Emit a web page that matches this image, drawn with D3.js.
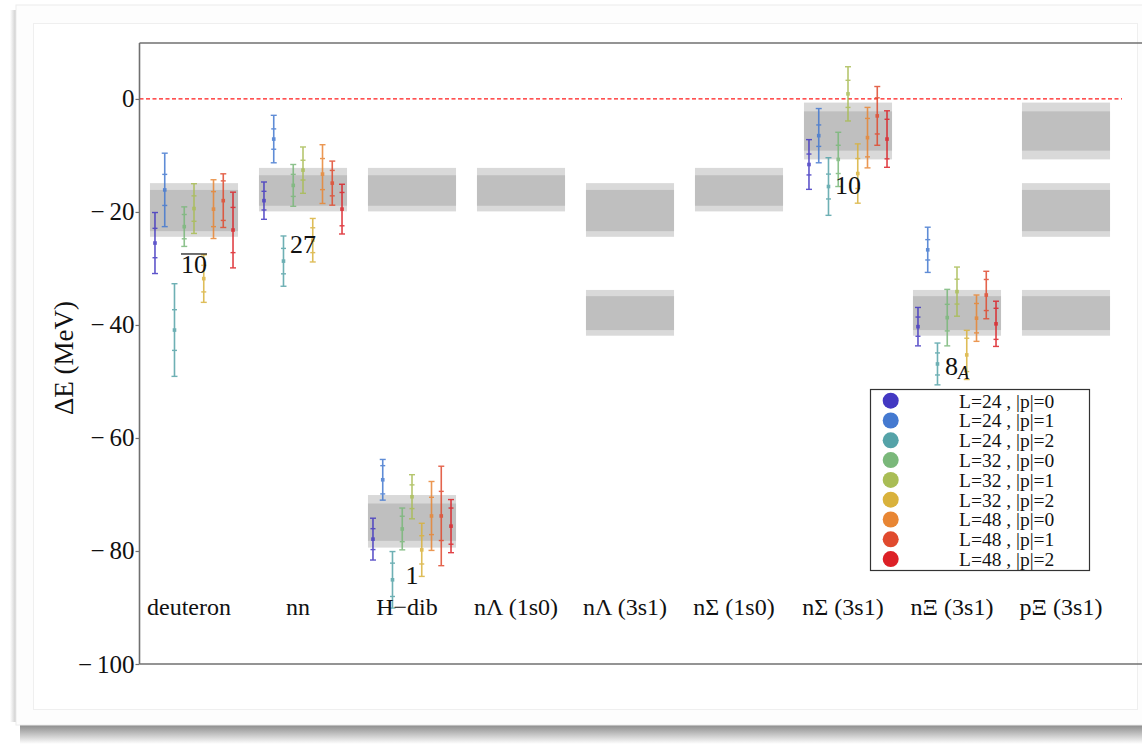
<!DOCTYPE html>
<html>
<head>
<meta charset="utf-8">
<script src="https://cdn.jsdelivr.net/npm/d3@7"></script>
<style>
  body { margin: 0; background: #fff; }
  text { font-family: "Liberation Serif", "Times New Roman", serif; }
</style>
</head>
<body>
<svg id="chart" width="1142" height="744"></svg>
<script>
// categories along the x axis
var categories = ["deuteron", "nn", "H\u2212dib", "n\u039b (1s0)", "n\u039b (3s1)",
                  "n\u03a3 (1s0)", "n\u03a3 (3s1)", "n\u039e (3s1)", "p\u039e (3s1)"];

// the nine ensembles / boosts
var seriesNames = ["L=24 , |p|=0", "L=24 , |p|=1", "L=24 , |p|=2",
                   "L=32 , |p|=0", "L=32 , |p|=1", "L=32 , |p|=2",
                   "L=48 , |p|=0", "L=48 , |p|=1", "L=48 , |p|=2"];
var seriesColors = ["#4338c2", "#4479d0", "#55a3a8", "#7ab87a", "#a9bd55",
                    "#d9b23c", "#e88634", "#e04a2e", "#dc2026"];

// binding energies (MeV), stat error, total error, one per series
var deuteronE    = [-25.5, -16.1, -40.9, -22.6, -19.4, -31.8, -19.5, -18.0, -23.2];
var deuteronStat = [2.6, 2.75, 3.6, 2.15, 2.25, 2.35, 3.1, 3.5, 4.0];
var deuteronTot  = [5.4, 6.5, 8.2, 3.5, 4.4, 4.2, 5.2, 4.75, 6.7];

var nnE    = [-18.0, -7.1, -28.7, -15.3, -12.6, -25.0, -13.3, -14.9, -19.5];
var nnStat = [1.65, 1.8, 2.25, 1.95, 1.75, 2.2, 2.75, 2.25, 2.95];
var nnTot  = [3.3, 4.2, 4.45, 3.7, 4.1, 3.85, 5.2, 3.9, 4.4];

var hdibE    = [-77.9, -67.4, -85.1, -76.1, -70.4, -79.8, -73.8, -73.8, -75.6];
var hdibStat = [1.85, 2.5, 2.95, 2.25, 2.1, 2.5, 3.3, 4.35, 3.2];
var hdibTot  = [3.7, 3.6, 5.0, 3.7, 3.9, 4.7, 6.1, 8.8, 4.7];

var nSigmaE    = [-11.6, -6.5, -15.5, -10.7, 0.9, -13.2, -6.85, -3.0, -7.1];
var nSigmaStat = [1.85, 1.9, 2.2, 2.5, 2.4, 2.65, 3.4, 3.2, 3.5];
var nSigmaTot  = [4.4, 4.8, 5.1, 4.8, 4.8, 5.25, 5.35, 5.2, 5.0];

var nXiE    = [-40.3, -26.7, -46.9, -38.7, -34.1, -45.3, -38.8, -34.7, -39.8];
var nXiStat = [1.7, 1.8, 1.95, 2.35, 2.2, 2.95, 2.6, 2.75, 2.75];
var nXiTot  = [3.4, 4.0, 3.7, 5.0, 4.35, 4.35, 4.1, 4.2, 4.0];

// SU(3) irrep bands: inner (stat) and outer (total) ranges
var irreps     = ["27", "10bar", "10", "8A", "1"];
var innerLo    = [-18.9, -23.4, -9.15, -40.9, -78.2];
var innerHi    = [-13.5, -16.1, -2.2, -34.9, -71.6];
var outerLo    = [-19.9, -24.4, -10.7, -41.9, -79.4];
var outerHi    = [-12.2, -14.9, -0.65, -33.8, -70.1];

// which bands show under which channel
var bandCats   = ["deuteron", "nn", "H\u2212dib", "H\u2212dib", "n\u039b (1s0)", "n\u039b (3s1)", "n\u039b (3s1)",
                  "n\u03a3 (1s0)", "n\u03a3 (3s1)", "n\u039e (3s1)", "p\u039e (3s1)", "p\u039e (3s1)", "p\u039e (3s1)"];
var bandIrreps = ["10bar", "27", "27", "1", "27", "10bar", "8A",
                  "27", "10", "8A", "10", "10bar", "8A"];

// irrep labels and the energy at which they sit
var labelCats = ["deuteron", "nn", "H\u2212dib", "n\u03a3 (3s1)", "n\u039e (3s1)"];
var labelIrreps = ["10bar", "27", "1", "10", "8A"];
var labelE = [-30.8, -27.3, -85.8, -16.8, -48.8];

var yTicks = [0, -20, -40, -60, -80, -100];

var svg = d3.select("#chart");
var W = 1142, H = 744;

// ---- card background with shadow
var defs = svg.append("defs");
var g1 = defs.append("linearGradient").attr("id", "shadowB").attr("x1", 0).attr("y1", 0).attr("x2", 0).attr("y2", 1);
g1.append("stop").attr("offset", "0%").attr("stop-color", "#7a7a7a");
g1.append("stop").attr("offset", "45%").attr("stop-color", "#b5b5b5");
g1.append("stop").attr("offset", "100%").attr("stop-color", "#ffffff");
var g2 = defs.append("linearGradient").attr("id", "shadowL").attr("x1", 0).attr("y1", 0).attr("x2", 1).attr("y2", 0);
g2.append("stop").attr("offset", "0%").attr("stop-color", "#ffffff");
g2.append("stop").attr("offset", "100%").attr("stop-color", "#c4c4c4");

svg.append("rect").attr("x", 0).attr("y", 0).attr("width", W).attr("height", H).attr("fill", "#fff");
svg.append("rect").attr("x", 20).attr("y", 722).attr("width", W - 20).attr("height", 22).attr("fill", "url(#shadowB)");
svg.append("rect").attr("x", 10).attr("y", 10).attr("width", 7).attr("height", 712).attr("fill", "url(#shadowL)");
svg.append("rect").attr("x", 16).attr("y", 5).attr("width", W).attr("height", 720)
  .attr("fill", "#fdfdfd").attr("stroke", "#ececec");
svg.append("rect").attr("x", 33.5).attr("y", 23.5).attr("width", 1104).attr("height", 686)
  .attr("fill", "#fff").attr("stroke", "#efefef");

// ---- scales
var x = d3.scalePoint().domain(categories).range([194, 1066]);
var y = d3.scaleLinear().domain([-100, 9.9]).range([664, 43]);
var step = x.step();
var bandHalf = step * 0.404;
var offset = function (j) { return (j - 4) * step * 0.0895; };

var plot = svg.append("g");

// ---- bands
var bands = bandCats.map(function (c, i) {
  var k = irreps.indexOf(bandIrreps[i]);
  return { cat: c, oLo: outerLo[k], oHi: outerHi[k], iLo: innerLo[k], iHi: innerHi[k] };
});
plot.selectAll("rect.outer").data(bands).join("rect").attr("class", "outer")
  .attr("x", function (d) { return x(d.cat) - bandHalf; })
  .attr("width", bandHalf * 2)
  .attr("y", function (d) { return y(d.oHi); })
  .attr("height", function (d) { return y(d.oLo) - y(d.oHi); })
  .attr("fill", "#d9d9d9");
plot.selectAll("rect.inner").data(bands).join("rect").attr("class", "inner")
  .attr("x", function (d) { return x(d.cat) - bandHalf; })
  .attr("width", bandHalf * 2)
  .attr("y", function (d) { return y(d.iHi); })
  .attr("height", function (d) { return y(d.iLo) - y(d.iHi); })
  .attr("fill", "#bfbfbf");

// ---- zero line
plot.append("line").attr("x1", 139.5).attr("x2", 1122).attr("y1", y(0)).attr("y2", y(0))
  .attr("stroke", "#ff1a1a").attr("stroke-width", 1.3).attr("stroke-dasharray", "4,2.5");

// ---- error bars
var measured = [
  { cat: "deuteron", E: deuteronE, s: deuteronStat, t: deuteronTot },
  { cat: "nn", E: nnE, s: nnStat, t: nnTot },
  { cat: "H\u2212dib", E: hdibE, s: hdibStat, t: hdibTot },
  { cat: "n\u03a3 (3s1)", E: nSigmaE, s: nSigmaStat, t: nSigmaTot },
  { cat: "n\u039e (3s1)", E: nXiE, s: nXiStat, t: nXiTot }
];
var points = [];
measured.forEach(function (m) {
  m.E.forEach(function (e, j) {
    points.push({ cat: m.cat, j: j, e: e, s: m.s[j], t: m.t[j] });
  });
});

var bars = plot.selectAll("g.bar").data(points).join("g").attr("class", "bar")
  .attr("transform", function (d) { return "translate(" + (x(d.cat) + offset(d.j)) + ",0)"; })
  .attr("stroke", function (d) { return seriesColors[d.j]; })
  .attr("fill", function (d) { return seriesColors[d.j]; })
  .attr("opacity", 0.85);
bars.append("line").attr("x1", 0).attr("x2", 0)
  .attr("y1", function (d) { return y(d.e + d.t); })
  .attr("y2", function (d) { return y(d.e - d.t); })
  .attr("stroke-width", 1.6);
[1, -1].forEach(function (sg) {
  bars.append("line").attr("x1", -3).attr("x2", 3)
    .attr("y1", function (d) { return y(d.e + sg * d.t); })
    .attr("y2", function (d) { return y(d.e + sg * d.t); })
    .attr("stroke-width", 1.4);
  bars.append("line").attr("x1", -2.5).attr("x2", 2.5)
    .attr("y1", function (d) { return y(d.e + sg * d.s); })
    .attr("y2", function (d) { return y(d.e + sg * d.s); })
    .attr("stroke-width", 1.4);
});
bars.append("rect").attr("x", -1.8).attr("width", 3.6).attr("height", 3.6)
  .attr("y", function (d) { return y(d.e) - 1.8; })
  .attr("stroke", "none");

// ---- irrep labels
labelCats.forEach(function (c, i) {
  var t = plot.append("text").attr("x", x(c)).attr("y", y(labelE[i]))
    .attr("text-anchor", "middle").attr("font-size", 26).attr("fill", "#111");
  var name = labelIrreps[i];
  if (name === "10bar") {
    t.text("10");
    var bb = t.node().getBBox();
    plot.append("line").attr("x1", bb.x).attr("x2", bb.x + bb.width)
      .attr("y1", y(labelE[i]) - 19).attr("y2", y(labelE[i]) - 19)
      .attr("stroke", "#111").attr("stroke-width", 1.2);
  } else if (name === "8A") {
    t.append("tspan").text("8");
    t.append("tspan").text("A").attr("font-size", 18).attr("font-style", "italic").attr("dy", 4);
  } else {
    t.text(name);
  }
});

// ---- category labels
plot.selectAll("text.cat").data(categories).join("text").attr("class", "cat")
  .attr("x", function (d) { return x(d) - 5; })
  .attr("y", 615)
  .attr("text-anchor", "middle").attr("font-size", 24).attr("fill", "#111")
  .text(function (d) { return d; });

// ---- frame
var frame = svg.append("g").attr("stroke", "#707070").attr("stroke-width", 1.6).attr("fill", "none");
frame.append("line").attr("x1", 139.5).attr("x2", 139.5).attr("y1", 43).attr("y2", 664);
frame.append("line").attr("x1", 139.5).attr("x2", W).attr("y1", 43).attr("y2", 43);
frame.append("line").attr("x1", 139.5).attr("x2", W).attr("y1", 664).attr("y2", 664);

// ---- y axis
var yAxis = d3.axisLeft(y).tickValues(yTicks).tickSize(4).tickSizeOuter(0).tickPadding(1)
  .tickFormat(function (d) { return d < 0 ? "\u2212\u2009" + Math.abs(d) : String(d); });
var ax = svg.append("g").attr("transform", "translate(139.5,0)").call(yAxis);
ax.select(".domain").remove();
ax.selectAll(".tick line").attr("stroke", "#707070").attr("stroke-width", 1.2);
ax.selectAll(".tick text").attr("font-size", 25).attr("fill", "#111")
  .attr("font-family", "'Liberation Serif', serif");

svg.append("text").attr("transform", "translate(73,358) rotate(-90)")
  .attr("text-anchor", "middle").attr("font-size", 27).attr("fill", "#111")
  .text("\u0394E  (MeV)");

// ---- legend
var leg = svg.append("g").attr("transform", "translate(870,389)");
leg.append("rect").attr("x", 0.5).attr("y", 0.5).attr("width", 219).attr("height", 181)
  .attr("fill", "#fff").attr("stroke", "#333").attr("stroke-width", 1.2);
var rows = leg.selectAll("g.row").data(seriesNames).join("g").attr("class", "row")
  .attr("transform", function (d, i) { return "translate(0," + (11.7 + i * 19.8) + ")"; });
rows.append("circle").attr("cx", 20.7).attr("cy", 0).attr("r", 8)
  .attr("fill", function (d, i) { return seriesColors[i]; });
rows.append("text").attr("x", 89).attr("y", 0).attr("dy", "0.35em")
  .attr("font-size", 19.5).attr("fill", "#111").text(function (d) { return d; });
</script>
</body>
</html>
